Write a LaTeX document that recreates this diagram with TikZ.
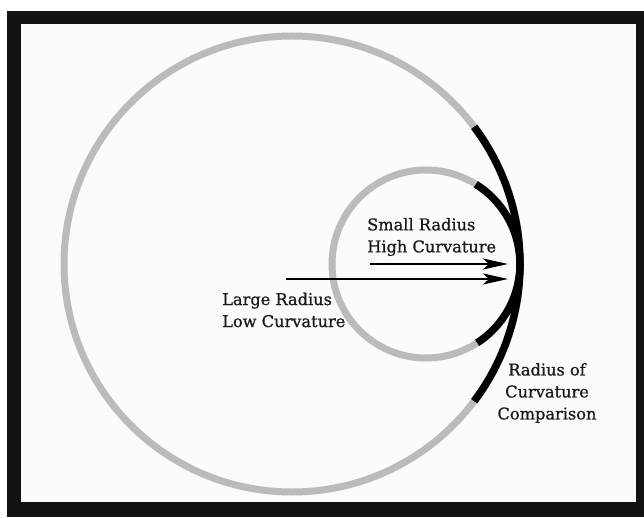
\documentclass[tikz,border=0pt]{standalone}
\usepackage{fontspec}
\setmainfont{DejaVu Serif}
\newfontfamily\capfont[FakeBold=0.8]{DejaVu Serif}
\usepackage{xcolor}
\usepackage{tikz}
\usetikzlibrary{arrows.meta}
\definecolor{ringgray}{HTML}{BBBBBB}
\definecolor{framecol}{HTML}{121212}
\definecolor{paper}{HTML}{FBFBFB}
\definecolor{inkcol}{HTML}{1A1A1A}

\begin{document}
\begin{tikzpicture}[x=1pt, y=1pt,
        ring/.style={line width=7pt, ringgray},
        tangentarc/.style={line width=7.5pt, black},
        radiusarrow/.style={line width=2.6pt, black, -{Stealth[length=25pt, width=11pt, inset=6pt]}},
        caption/.style={font=\capfont\fontsize{16.2}{22}\selectfont, text=inkcol, inner sep=0pt}]
        \useasboundingbox (0, 0) rectangle (644, 517);
        \fill[white] (0, 0) rectangle (644, 517);
        \fill[framecol] (7, 0) rectangle (644, 506);
        \fill[paper] (21, 15) rectangle (636, 493);
        % the two circles, touching at the right
        \coordinate (bigc) at (292, 253);
        \coordinate (smallc) at (426, 253);
        \draw[ring] (bigc) circle[radius=228];
        \draw[ring] (smallc) circle[radius=94];
        \draw[tangentarc] ([shift={(-37:228)}]bigc) arc[start angle=-37, end angle=37, radius=228];
        \draw[tangentarc] ([shift={(-57:94)}]smallc) arc[start angle=-57, end angle=58, radius=94];
        %
        \coordinate (smalltail) at (370, 253);
        \coordinate (smalltip) at (508, 253);
        \coordinate (largetail) at (286, 238);
        \coordinate (largetip) at (508, 238);
        \draw[radiusarrow] (smalltail) -- (smalltip);
        \draw[radiusarrow] (largetail) -- (largetip);
        \node[caption, anchor=west, align=left] (smalllabel) at (367, 280) {Small Radius\\High Curvature};
        \node[caption, anchor=west, align=left] (largelabel) at (222, 207) {Large Radius\\Low Curvature};
        \node[caption, align=center] (complabel) at (547, 124) {Radius of\\Curvature\\Comparison};
\end{tikzpicture}
\end{document}
